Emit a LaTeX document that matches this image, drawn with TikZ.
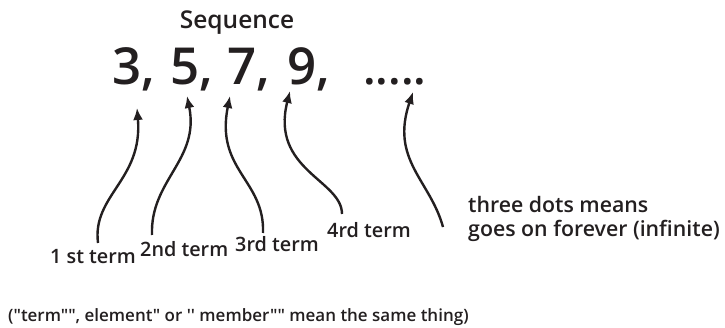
\documentclass[tikz,border=0pt]{standalone}
\usepackage{fontspec}
\setmainfont{Open Sans}
\IfFontExistsTF{Open Sans Semibold}{\newfontfamily\semib{Open Sans Semibold}}{%
 \IfFontExistsTF{Open Sans SemiBold}{\newfontfamily\semib{Open Sans SemiBold}}{%
  \IfFontExistsTF{OpenSans-Semibold}{\newfontfamily\semib{OpenSans-Semibold}}{%
   \newfontfamily\semib[FakeBold=3]{Open Sans}}}}
\usetikzlibrary{arrows.meta}
\definecolor{ink}{RGB}{35,31,32}
\tikzset{
  lbl/.style={anchor=base west, inner sep=0pt, text=ink, font=\semib\fontsize{19.8}{24}\selectfont},
  side/.style={anchor=base west, inner sep=0pt, text=ink, font=\semib\fontsize{21.3}{24}\selectfont},
  num/.style={anchor=base west, inner sep=0pt, text=ink, font=\semib\fontsize{51}{60}\selectfont},
  arr/.style={draw=ink, line width=2.4pt, -{Latex[length=12pt,width=10pt]}},
}
\begin{document}
\begin{tikzpicture}[x=1pt,y=-1pt]
\useasboundingbox[fill=white] (0,0) rectangle (725,328);
\node[anchor=base, inner sep=0pt, text=ink, font=\semib\fontsize{24.5}{28}\selectfont] (title) at (237,29) {Sequence};
\node[num] (n3) at (112,85) {3,};
\node[num] (n5) at (170,85) {5,};
\node[num] (n7) at (227,85) {7,};
\node[num] (n9) at (287,85) {9,};
\node[num, font=\semib\fontsize{46}{60}\selectfont] (dots) at (363,85) {.....};
\node[lbl] (l1) at (50,264) {1 st term};
\node[lbl] (l2) at (140,257) {2nd term};
\node[lbl] (l3) at (235,252) {3rd term};
\node[lbl] (l4) at (327,238) {4rd term};
\node[side] (l5a) at (468,213) {three dots means};
\node[side] (l5b) at (468,237) {goes on forever (infinite)};
\node[anchor=base west, inner sep=0pt, text=ink, font=\semib\fontsize{17}{24}\selectfont] (note) at (8,322) {("term"", element" or '{}' member"" mean the same thing)};
\coordinate (s1) at (98,243);  \coordinate (e1) at (137,108);
\coordinate (s2) at (152,235); \coordinate (e2) at (187,96);
\coordinate (s3) at (263,233); \coordinate (e3) at (230,96);
\coordinate (s4) at (342,214); \coordinate (e4) at (290,91);
\coordinate (s5) at (443,227); \coordinate (e5) at (413,92);
\draw[arr] (s1) .. controls (92,195) and (143,180) .. (e1);
\draw[arr] (s2) .. controls (150,180) and (200,160) .. (e2);
\draw[arr] (s3) .. controls (265,180) and (215,170) .. (e3);
\draw[arr] (s4) .. controls (342,180) and (270,170) .. (e4);
\draw[arr] (s5) .. controls (430,180) and (390,160) .. (e5);
\end{tikzpicture}
\end{document}
